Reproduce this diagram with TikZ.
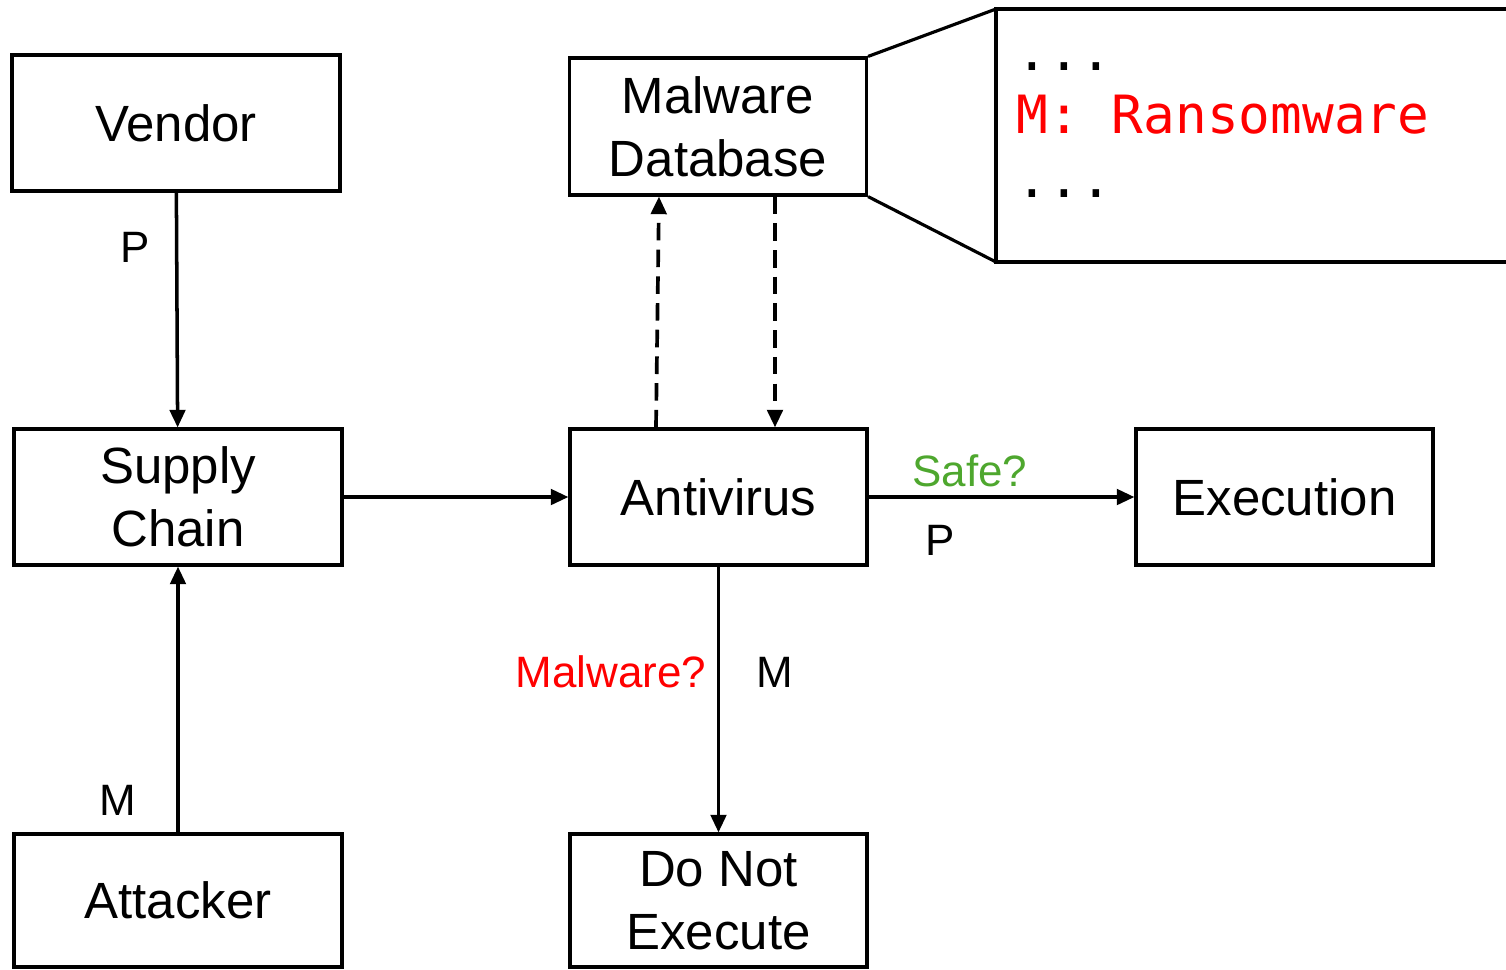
\documentclass[tikz,border=0pt]{standalone}
\usepackage{fontspec}
\setmainfont{Liberation Sans}
\newfontfamily\codefont{DejaVu Sans Mono}
\usetikzlibrary{arrows.meta}
\definecolor{safegreen}{HTML}{4EA72E}
\definecolor{alertred}{HTML}{FF0000}

\begin{document}
\begin{tikzpicture}[
		box/.style={draw, rectangle, line width=0.9pt, minimum width=2.97cm, minimum height=1.36cm, align=center, inner sep=0pt, font=\fontsize{14.5}{18}\selectfont},
		wide/.style={minimum width=3.28cm},
		low/.style={minimum height=1.33cm},
		lbl/.style={inner sep=0pt, font=\fontsize{12.5}{15}\selectfont},
		code/.style={inner sep=0pt, anchor=base west, font=\codefont\fontsize{15}{18}\selectfont},
		arr/.style={line width=1pt, -{Triangle[length=5pt,width=4.4pt]}},
		dasharr/.style={arr, line width=1.05pt, dash pattern=on 5pt off 2.6pt}]
	\useasboundingbox (0,0) rectangle (15.06,-9.69);

	% boxes
	\node [box, wide] (vendor) at (1.76,-1.23) {Vendor};
	\node [box, wide] (supply) at (1.78,-4.97) {Supply\\Chain};
	\node [box, wide, low] (attacker) at (1.78,-9.005) {Attacker};
	\node [box, minimum height=1.37cm] (database) at (7.18,-1.265) {Malware\\Database};
	\node [box] (antivirus) at (7.185,-4.97) {Antivirus};
	\node [box] (execution) at (12.845,-4.97) {Execution};
	\node [box, low] (donot) at (7.185,-9.005) {Do Not\\Execute};

	% zoomed view of the database
	\coordinate (zoomtl) at (9.96,-0.09);
	\coordinate (zoombl) at (9.96,-2.62);
	\coordinate (zoomtr) at (15.06,-0.09);
	\coordinate (zoombr) at (15.06,-2.62);
	\draw [line width=0.9pt] (zoomtr) -- (zoomtl) -- (zoombl) -- (zoombr);
	\draw [line width=0.9pt] (database.north east) -- (zoomtl);
	\draw [line width=0.9pt] (database.south east) -- (zoombl);
	\node [code] (dots1) at (10.16,-0.70) {...};
	\node [code, text=alertred] (entry) at (10.16,-1.33) {M: Ransomware};
	\node [code] (dots2) at (10.16,-1.97) {...};

	% connectors
	\draw [arr] (vendor) -- (supply);
	\draw [arr] (attacker) -- (supply);
	\draw [arr] (supply) -- (antivirus);
	\draw [arr] (antivirus) -- (execution);
	\draw [arr] (antivirus) -- (donot);
	\draw [dasharr] ([xshift=-0.625cm]antivirus.north) -- ([xshift=-0.59cm]database.south);
	\draw [dasharr] ([xshift=0.57cm]database.south) -- ([xshift=0.565cm]antivirus.north);

	% labels
	\node [lbl] (pvendor) at (1.35,-2.47) {P};
	\node [lbl] (mattacker) at (1.18,-8.0) {M};
	\node [lbl, text=safegreen] (safe) at (9.70,-4.71) {Safe?};
	\node [lbl] (pexec) at (9.40,-5.40) {P};
	\node [lbl, text=alertred, anchor=east] (malware) at (7.07,-6.72) {Malware?};
	\node [lbl] (mdonot) at (7.75,-6.72) {M};
\end{tikzpicture}
\end{document}
